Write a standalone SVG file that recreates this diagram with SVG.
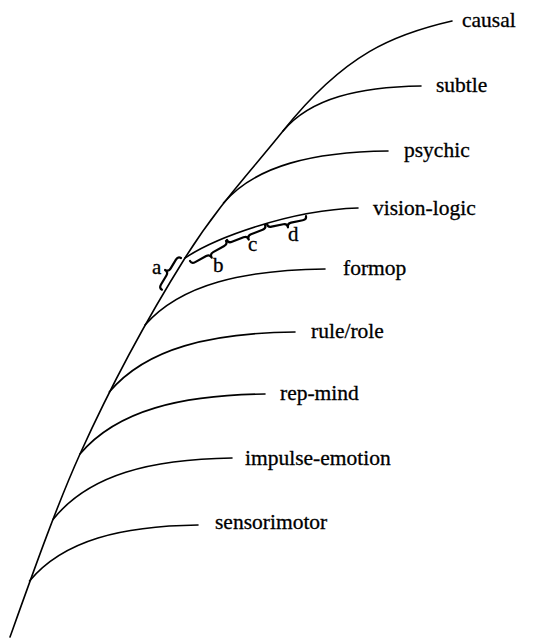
<svg xmlns="http://www.w3.org/2000/svg" width="540" height="639" viewBox="0 0 540 639">
<style>
.ln{fill:none;stroke:#000;stroke-width:1.6;stroke-linecap:round}
.br{fill:none;stroke:#000;stroke-width:2.2;stroke-linejoin:round;stroke-linecap:round}
.lb{font-family:"Liberation Serif","Times New Roman",serif;font-size:21.5px;fill:#000;stroke:#000;stroke-width:0.3}
.sm{font-family:"Liberation Serif","Times New Roman",serif;font-size:21px;fill:#000;stroke:#000;stroke-width:0.3}
</style>
<rect width="540" height="639" fill="#fff"/>
<g id="connectors">
<path id="spine" class="ln" d="M10,637 C33,572.6 57,504.8 80,454 C115,376.6 150,314 185,258 C217.7,205.7 250.3,171.9 283,131 C345,53 395,34 452,21"/>
<path class="ln" d="M29.5,581 C63.5,540 122,526 198,525"/>
<path class="ln" d="M53,519.5 C88.8,474.6 151.5,459 232,458"/>
<path class="ln" d="M80,454 C117,410 182,395 265,394"/>
<path class="ln" d="M109.3,392 C146.4,348 211,333 295,332"/>
<path class="ln" d="M145,325 C181,284 244,270 325,269"/>
<path class="ln" d="M185,258 C215,238 290,210 358,208"/>
<path class="ln" d="M223.5,203 C256.4,165 314,152 388,151"/>
<path class="ln" d="M283,131 C310.6,98 359,87 421,86"/>
</g>
<g id="causal"><text class="lb" x="462" y="27">causal</text></g>
<g id="subtle"><text class="lb" x="436" y="92">subtle</text></g>
<g id="psychic"><text class="lb" x="404" y="157">psychic</text></g>
<g id="vision-logic"><text class="lb" x="373" y="215">vision-logic</text></g>
<g id="formop"><text class="lb" x="343" y="275">formop</text></g>
<g id="rule-role"><text class="lb" x="311" y="338">rule/role</text></g>
<g id="rep-mind"><text class="lb" x="280" y="400">rep-mind</text></g>
<g id="impulse-emotion"><text class="lb" x="245" y="465">impulse-emotion</text></g>
<g id="sensorimotor"><text class="lb" x="215" y="529">sensorimotor</text></g>
<g id="brace-a">
<path class="br" transform="translate(181,258) rotate(121)" d="M0,0 Q0,3.5 4,3.5 L14.5,3.5 Q18.5,3.5 18.5,7.5 Q18.5,3.5 22.5,3.5 L33,3.5 Q37,3.5 37,0"/>
<text class="sm" x="152" y="274">a</text>
</g>
<g id="brace-b">
<path class="br" transform="translate(190,261) rotate(-29.1)" d="M0,0 Q0,3.5 4,3.5 L16.6,3.5 Q20.6,3.5 20.6,7.5 Q20.6,3.5 24.6,3.5 L37.2,3.5 Q41.2,3.5 41.2,0"/>
<text class="sm" x="213" y="272">b</text>
</g>
<g id="brace-c">
<path class="br" transform="translate(227,240) rotate(-21.5)" d="M0,0 Q0,3.5 4,3.5 L16.4,3.5 Q20.4,3.5 20.4,7.5 Q20.4,3.5 24.4,3.5 L36.9,3.5 Q40.9,3.5 40.9,0"/>
<text class="sm" x="248" y="251">c</text>
</g>
<g id="brace-d">
<path class="br" transform="translate(267,224) rotate(-11.6)" d="M0,0 Q0,3.5 4,3.5 L15.9,3.5 Q19.9,3.5 19.9,7.5 Q19.9,3.5 23.9,3.5 L35.8,3.5 Q39.8,3.5 39.8,0"/>
<text class="sm" x="288" y="241">d</text>
</g>
</svg>
